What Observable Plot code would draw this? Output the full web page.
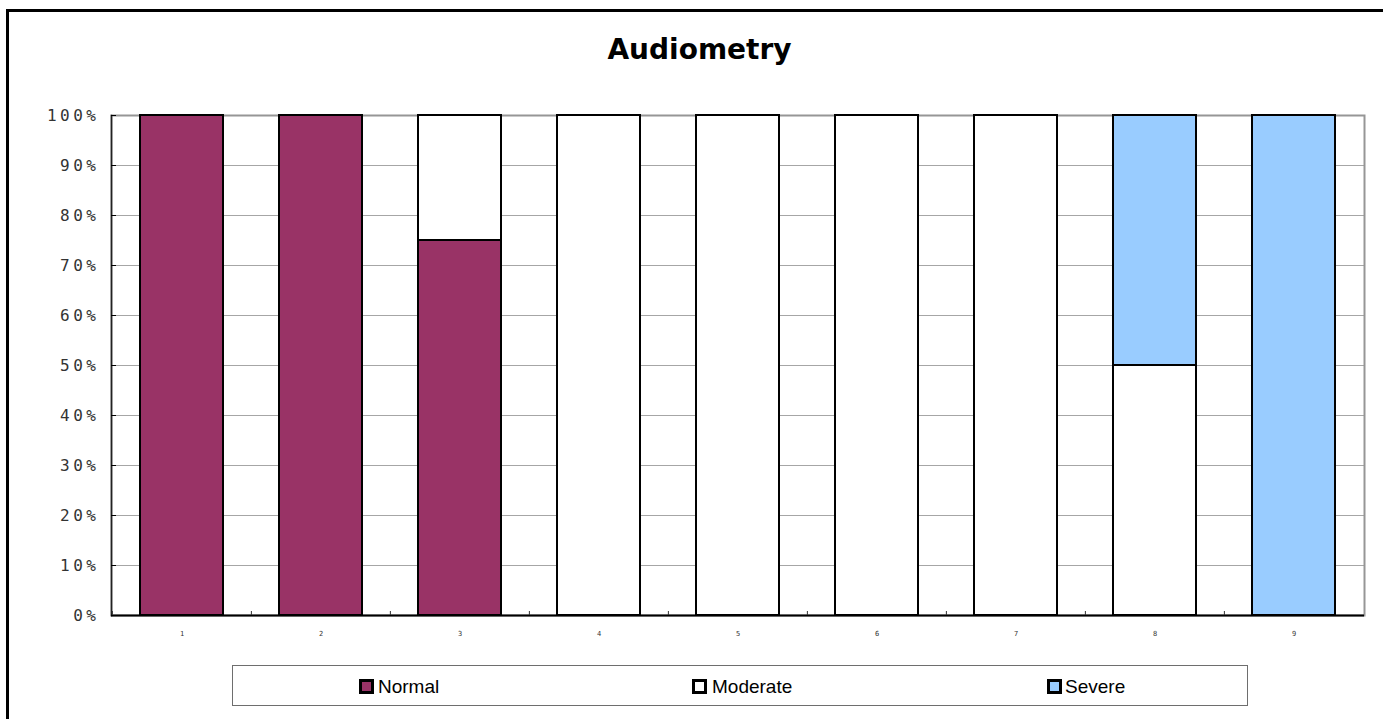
<!DOCTYPE html>
<html>
<head>
<meta charset="utf-8">
<script src="https://cdn.jsdelivr.net/npm/d3@7"></script>
<script src="https://cdn.jsdelivr.net/npm/@observablehq/plot@0.6"></script>
<style>
html, body { margin: 0; padding: 0; background: #fff; overflow: hidden; width: 1383px; height: 719px; }
#wrap { position: relative; width: 1383px; height: 719px; overflow: hidden; }
#border { position: absolute; left: 6px; top: 9px; width: 1500px; height: 800px; border-left: 3px solid #000; border-top: 3px solid #000; }
#title { position: absolute; left: 0; top: 36px; width: 1399px; text-align: center; font: bold 28px/28px "DejaVu Sans", sans-serif; color: #000; }
#chart { position: absolute; left: 0; top: 0; }
#chart svg { background: transparent; }
#legend { position: absolute; left: 232px; top: 665px; width: 1016px; height: 41px; box-sizing: border-box; border: 1.5px solid #6e6e6e; }
.sw { position: absolute; top: 679px; width: 15px; height: 15px; box-sizing: border-box; border: 3px solid #000; }
.lt { position: absolute; top: 677px; font: 19px/19px "Liberation Sans", Arial, sans-serif; color: #000; white-space: nowrap; }
</style>
</head>
<body>
<div id="wrap">
  <div id="border"></div>
  <div id="title"></div>
  <div id="chart"></div>
  <div id="legend"></div>
</div>
<script>
// ---- data ----
const title = "Audiometry";
const categories = ["1", "2", "3", "4", "5", "6", "7", "8", "9"];
const seriesNames = ["Normal", "Moderate", "Severe"];
const normal   = [100, 100, 75, 0, 0, 0, 0, 0, 0];
const moderate = [0, 0, 25, 100, 100, 100, 100, 50, 0];
const severe   = [0, 0, 0, 0, 0, 0, 0, 50, 100];
const seriesColors = ["#993366", "#FFFFFF", "#99CCFF"];
const yTicks = [0, 10, 20, 30, 40, 50, 60, 70, 80, 90, 100];

// ---- build table ----
const seriesValues = [normal, moderate, severe];
const rows = [];
categories.forEach((c, i) => {
  seriesValues.forEach((arr, j) => {
    if (arr[i] > 0) rows.push({cat: c, series: seriesNames[j], value: arr[i]});
  });
});

document.getElementById("title").textContent = title;

const W = 1383, H = 660, ML = 111, MR = 19, MT = 115, MB = 45;
const halfStep = (W - ML - MR) / categories.length / 2;

const chart = Plot.plot({
  width: W, height: H,
  marginLeft: ML, marginRight: MR, marginTop: MT, marginBottom: MB,
  x: {domain: categories, paddingInner: 0.4, paddingOuter: 0.2, label: null},
  y: {domain: [0, 100], label: null},
  color: {domain: seriesNames, range: seriesColors},
  marks: [
    Plot.ruleY(yTicks.slice(1), {stroke: "#a6a6a6", strokeWidth: 1}),
    Plot.frame({stroke: "#969696", strokeWidth: 2}),
    Plot.barY(rows, {x: "cat", y: "value", fill: "series", stroke: "#000", strokeWidth: 2, order: seriesNames}),
    Plot.frame({anchor: "left", stroke: "#222", strokeWidth: 1.5}),
    Plot.ruleY([0], {stroke: "#000", strokeWidth: 2}),
    Plot.axisY({ticks: yTicks, tickSize: 5, dx: 5, tickFormat: () => "", stroke: "#000", label: null}),
    Plot.axisY({ticks: yTicks, tickSize: 0, tickPadding: 12, tickFormat: d => d + "%", label: null,
      fontSize: 16, fontFamily: "DejaVu Sans Mono", fill: "#333"}),
    Plot.axisX({tickSize: 4, dx: -halfStep, dy: -4, tickFormat: () => "", stroke: "#333", label: null}),
    Plot.axisX({tickSize: 0, tickPadding: 16, fontSize: 7, fontFamily: "DejaVu Sans Mono", fill: "#333", label: null})
  ]
});
document.getElementById("chart").appendChild(chart);
d3.select(chart).selectAll('g[aria-label="y-axis tick label"] text').style("letter-spacing", "3.5px");

// ---- legend ----
const swX = [359, 692, 1047];
const txX = [378, 712, 1065];
const wrap = document.getElementById("wrap");
seriesNames.forEach((name, i) => {
  const sw = document.createElement("div");
  sw.className = "sw";
  sw.style.left = swX[i] + "px";
  sw.style.background = seriesColors[i];
  wrap.appendChild(sw);
  const t = document.createElement("div");
  t.className = "lt";
  t.style.left = txX[i] + "px";
  t.textContent = name;
  wrap.appendChild(t);
});
</script>
</body>
</html>
